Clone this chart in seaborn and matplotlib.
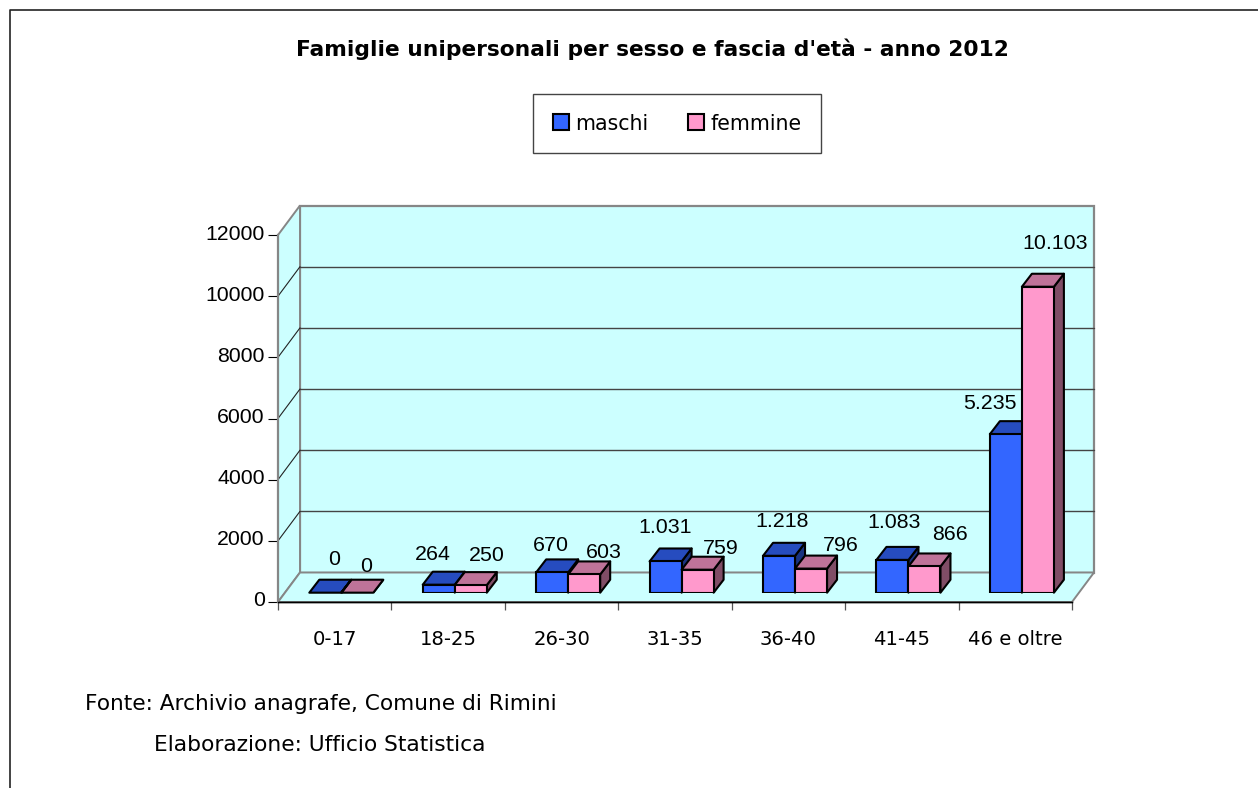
import matplotlib
matplotlib.use("Agg")
import matplotlib.pyplot as plt
from matplotlib.lines import Line2D
from matplotlib.patches import Polygon, Rectangle
from matplotlib.transforms import Affine2D, IdentityTransform
import numpy as np
import pandas as pd
import seaborn as sns

# dati
fasce = ['0-17', '18-25', '26-30', '31-35', '36-40', '41-45', '46 e oltre']
maschi = [0, 264, 670, 1031, 1218, 1083, 5235]
femmine = [0, 250, 603, 759, 796, 866, 10103]
etichette_m = ['0', '264', '670', '1.031', '1.218', '1.083', '5.235']
etichette_f = ['0', '250', '603', '759', '796', '866', '10.103']
y_ticks = [0, 2000, 4000, 6000, 8000, 10000, 12000]

W, H = 1258, 788
BLU, ROSA = '#3366FF', '#FF99CC'
# facce in ombra delle barre: sopra, lato
OMBRE = {BLU: ('#264CBF', '#1A3380'), ROSA: ('#BF7399', '#804D66')}
GRIGIO = '#868686'
FONT_TESTI = 'DejaVu Sans'
FONT_NUMERI = 'Liberation Sans'

sns.set_theme(style='white')
plt.rcParams['font.family'] = ['DejaVu Sans']
plt.rcParams['text.color'] = 'black'

df = pd.DataFrame({'fascia': fasce, 'maschi': maschi, 'femmine': femmine})
df = df.melt(id_vars='fascia', var_name='sesso', value_name='n')

fig = plt.figure(figsize=(W / 100, H / 100), dpi=100, facecolor='white')


def box(x0, x1, y_top, y_bottom):
    return [x0 / W, 1 - y_bottom / H, (x1 - x0) / W, (y_bottom - y_top) / H]


# piano frontale con assi e pareti
ax_back = fig.add_axes(box(278, 1072, 235, 602))
ax_back.set_xlim(0, 7)
ax_back.set_ylim(0, 12000)
ax_back.patch.set_visible(False)
sns.despine(ax=ax_back, top=True, right=True)
ax_back.spines['left'].set_color(GRIGIO)
ax_back.spines['left'].set_linewidth(1.6)
ax_back.spines['bottom'].set_color('black')
ax_back.spines['bottom'].set_linewidth(1.0)

ax_back.set_yticks(y_ticks)
ax_back.tick_params(axis='y', length=7.5, width=0.8, color='black', pad=2, left=True,
                    labelsize=15.3, labelcolor='black')
ax_back.set_xticks(np.arange(8))
ax_back.set_xticklabels([])
ax_back.tick_params(axis='x', which='major', length=6, width=0.9, color='#555555', bottom=True)
ax_back.set_xticks(np.arange(7) + 0.5, labels=fasce, minor=True)
ax_back.tick_params(axis='x', which='minor', length=0, pad=20, labelsize=14.1, labelcolor='black')
for t in ax_back.get_yticklabels():
    t.set_fontfamily(FONT_NUMERI)
    t.set_transform(t.get_transform() + Affine2D().translate(0, 3))
for t in ax_back.get_xticklabels(minor=True):
    t.set_fontfamily(FONT_TESTI)

DX, DY = 22, 29.5
profondo = ax_back.transData + Affine2D().translate(DX, DY)
ax_back.add_patch(Rectangle((0, 0), 7, 12000, transform=profondo, facecolor='#CCFFFF',
                            edgecolor=GRIGIO, lw=1.6, clip_on=False, zorder=0))


def px(x, y):
    return ax_back.transData.transform((x, y))


def pezzo(p, **kw):
    fig_poly = Polygon(p, closed=True, transform=IdentityTransform(), clip_on=False, **kw)
    ax_back.add_patch(fig_poly)


a, b = px(0, 0), px(0, 12000)
pezzo([a, b, b + (DX, DY), a + (DX, DY)], facecolor='#CCFFFF', edgecolor=GRIGIO, lw=1.4, zorder=1)
c = px(7, 0)
pezzo([a, c, c + (DX, DY), a + (DX, DY)], facecolor='#CCFFFF', edgecolor=GRIGIO, lw=1.4, zorder=1)
ax_back.plot([0, 7], [0, 0], color='black', lw=1.0, clip_on=False, zorder=2)

for v in y_ticks[1:-1]:
    ax_back.plot([0, 7], [v, v], transform=profondo, color='#444444', lw=1.0, clip_on=False, zorder=1)
    p = px(0, v)
    ax_back.plot([p[0], p[0] + DX], [p[1], p[1] + DY], transform=IdentityTransform(),
                 color='#222222', lw=0.8, clip_on=False, zorder=1)

# barre sul piano intermedio
ax = fig.add_axes(box(284.6, 1078.6, 592.7 - 363.4, 592.7))
ax.patch.set_visible(False)
sns.barplot(data=df, x='fascia', y='n', hue='sesso', hue_order=['maschi', 'femmine'],
            order=fasce, palette=[BLU, ROSA], width=0.5644, gap=0, saturation=1,
            edgecolor='black', linewidth=1.5, ax=ax, zorder=4)
ax.set_xlim(-0.5, 6.5)
ax.set_ylim(0, 12000)
ax.set_xlabel('')
ax.set_ylabel('')
ax.set_xticks([])
ax.set_yticks([])
sns.despine(ax=ax, left=True, bottom=True)

sns.move_legend(ax, loc='center', bbox_to_anchor=(677 / W, 1 - 123.5 / H),
                bbox_transform=fig.transFigure, ncol=2, title=None, frameon=True,
                fancybox=False, framealpha=1, edgecolor='#444444', fontsize=14.8,
                handlelength=0.8, handleheight=0.8, handletextpad=0.3,
                columnspacing=1.9, borderpad=0.95, labelspacing=0)
leg = ax.get_legend()
leg.get_frame().set_linewidth(1.0)
for t in leg.get_texts():
    t.set_fontfamily(FONT_TESTI)
    t.set_color('black')

# facce superiori e laterali calcolate dalle barre di seaborn
BX, BY = 10, 13
barre = [p for p in ax.patches if isinstance(p, Rectangle)]
for n, bar in enumerate(barre):
    col = BLU if n < len(fasce) else ROSA
    sopra, lato = OMBRE[col]
    x0, x1 = bar.get_x(), bar.get_x() + bar.get_width()
    h = bar.get_height()
    p0 = ax.transData.transform((x0, h))
    p1 = ax.transData.transform((x1, h))
    p2 = ax.transData.transform((x1, 0))
    z = 2 + n % len(fasce) * 0.01 + (0 if col == BLU else 1)
    bar.set_zorder(z + 0.5)
    ax.add_patch(Polygon([p1, p2, p2 + (BX, BY), p1 + (BX, BY)], closed=True,
                         transform=IdentityTransform(), clip_on=False, facecolor=lato,
                         edgecolor='black', lw=1.5, joinstyle='round', zorder=z))
    ax.add_patch(Polygon([p0, p1, p1 + (BX, BY), p0 + (BX, BY)], closed=True,
                         transform=IdentityTransform(), clip_on=False, facecolor=sopra,
                         edgecolor='black', lw=1.5, joinstyle='round', zorder=z + 0.1))

# etichette dei valori, spostate a mano come nell'originale (pixel dal centro barra)
spost_m = [(9, 33), (-6, 30), (-1, 27), (0, 34), (3, 34), (2, 37), (-16, 31)]
spost_f = [(9, 26), (16, 30), (20, 22), (23, 21), (30, 23), (26, 32), (17, 43)]
for i in range(len(fasce)):
    for j, (vals, testi, spost) in enumerate(((maschi, etichette_m, spost_m),
                                             (femmine, etichette_f, spost_f))):
        xc = i - 0.2822 / 2 + j * 0.2822
        ax.annotate(testi[i], xy=(xc, vals[i]), xytext=(spost[i][0] * 0.72, spost[i][1] * 0.72),
                    textcoords='offset points', ha='center', va='center',
                    fontsize=15.4, family=FONT_NUMERI, color='black', zorder=20,
                    annotation_clip=False)

# titolo, fonte e cornice
fig.text(652 / W, 1 - 49 / H, "Famiglie unipersonali per sesso e fascia d'età - anno 2012",
         ha='center', va='center', fontsize=15.7, fontweight='bold', family=FONT_TESTI, color='black')
fig.text(85 / W, 1 - 704 / H, 'Fonte: Archivio anagrafe, Comune di Rimini',
         ha='left', va='center', fontsize=15.6, family=FONT_TESTI, color='black')
fig.text(154 / W, 1 - 745 / H, 'Elaborazione: Ufficio Statistica',
         ha='left', va='center', fontsize=15.7, family=FONT_TESTI, color='black')
fig.add_artist(Line2D([9.5 / W, 9.5 / W, 1.0], [0, 1 - 10 / H, 1 - 10 / H],
                      transform=fig.transFigure, color='#222222', lw=1.2))

fig.savefig('out.png', dpi=100)
